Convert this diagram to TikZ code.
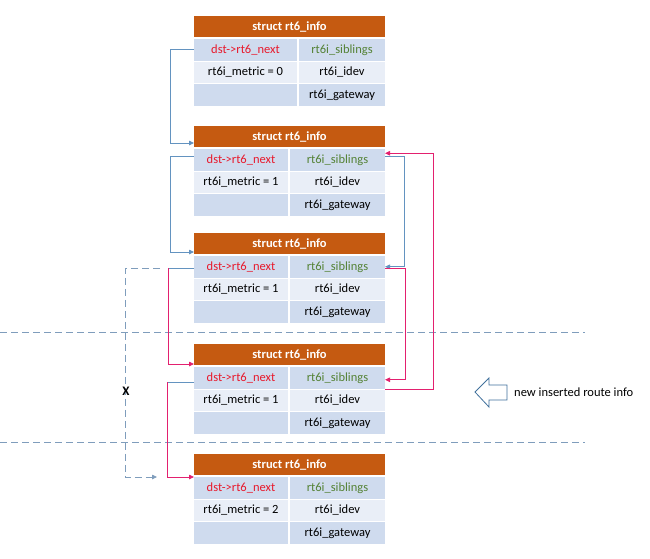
\documentclass[tikz,border=0pt]{standalone}
\usepackage{fontspec}
\setmainfont{Carlito}
\usetikzlibrary{arrows.meta}
\definecolor{hdrc}{HTML}{C55A11}
\definecolor{rowd}{HTML}{CFDBEE}
\definecolor{rowl}{HTML}{E9EEF7}
\definecolor{redt}{HTML}{E8192C}
\definecolor{grnt}{HTML}{548235}
\definecolor{blc}{HTML}{6393C0}
\definecolor{pkc}{HTML}{E3206F}
\definecolor{dshc}{HTML}{7F9DBC}
\definecolor{arrc}{HTML}{41719C}
\newcommand\rtab[4]{%
  \node[hdr, minimum width=191pt, minimum height=21pt] (#1h) at (289.5,{#2+10.5}) {struct rt6\_info};
  \node[cell, fill=rowd, minimum width={(#3-195)*1pt}, minimum height=21.5pt] (#1a) at ({(193+#3)/2},{#2+33.75}) {\color{redt}dst-{}>rt6\_next};
  \node[cell, fill=rowd, minimum width={(384-#3)*1pt}, minimum height=21.5pt] (#1b) at ({(#3+386)/2},{#2+33.75}) {\color{grnt}rt6i\_siblings};
  \node[cell, fill=rowl, minimum width={(#3-195)*1pt}, minimum height=21.5pt] (#1c) at ({(193+#3)/2},{#2+56.25}) {rt6i\_metric = #4};
  \node[cell, fill=rowl, minimum width={(384-#3)*1pt}, minimum height=21.5pt] (#1d) at ({(#3+386)/2},{#2+56.25}) {rt6i\_idev};
  \node[cell, fill=rowd, minimum width={(#3-195)*1pt}, minimum height=22pt] (#1e) at ({(193+#3)/2},{#2+79}) {};
  \node[cell, fill=rowd, minimum width={(384-#3)*1pt}, minimum height=22pt] (#1f) at ({(#3+386)/2},{#2+79}) {rt6i\_gateway};
}
\begin{document}
\begin{tikzpicture}[x=1pt,y=-1pt,
  hdr/.style={fill=hdrc, text=white, font=\fontsize{12.5}{14}\selectfont\bfseries, inner sep=0pt, outer sep=0pt},
  cell/.style={font=\fontsize{12.5}{14}\selectfont, inner sep=0pt, outer sep=0pt},
  arr/.style={-{Triangle[length=5pt,width=4.5pt]}},
  bl/.style={draw=blc, line width=0.8pt},
  pk/.style={draw=pkc, line width=0.8pt},
  dsh/.style={draw=dshc, line width=0.8pt, dash pattern=on 7pt off 4pt},
  lbl/.style={font=\fontsize{12.5}{14}\selectfont, inner sep=0pt}]
\useasboundingbox (0,0) rectangle (650,558);
\fill[white] (0,0) rectangle (650,558);

\rtab{ta}{16}{298}{0}
\rtab{tb}{126}{289}{1}
\rtab{tc}{233}{289}{1}
\rtab{td}{344}{289}{1}
\rtab{te}{454}{289}{2}

% separators
\draw[dsh] (0,332) -- (585,332);
\draw[dsh] (0,442) -- (585,442);

% blue connectors
\draw[bl,arr] (taa.west) -- ++(-24,0) |- ([yshift=4pt]tbh.south west);
\draw[bl,arr] ([yshift=3.5pt]tba.west) -- ++(-24,0) |- ([yshift=2pt]tch.south west);
\draw[bl,arr] ([yshift=3.5pt]tbb.east) -- ++(19,0) |- (tcb.east);

% pink connectors
\draw[pk,arr] ([yshift=-2pt]tcb.east) -- ++(20,0) |- ([yshift=-2pt]tdb.east);
\draw[pk,arr] ([yshift=-12pt]tdb.east) -- ++(48,0) |- ([yshift=6.5pt]tbb.east);
\draw[pk,arr] ([yshift=-2pt]tca.west) -- ++(-26,0) |- ([yshift=1pt]tdh.south west);
\draw[pk,arr] ([yshift=-5pt]tda.west) -- ++(-27,0) |- ([yshift=-2pt]teh.south west);
\draw[bl] ([yshift=-2pt]tca.west) -- ++(-25,0);
\draw[bl] ([yshift=-5pt]tda.west) -- ++(-26,0);

% broken (dashed) link
\coordinate (dstart) at ([xshift=-34pt,yshift=-2pt]tca.west);
\coordinate (dend) at ([xshift=-37pt,yshift=-2pt]teh.south west);
\draw[dsh,arr] (dstart) -- ++(-35,0) |- (dend);
\node[font=\fontsize{13}{15}\selectfont\bfseries, inner sep=0pt] (xlbl) at (126,391) {X};

% new inserted marker
\draw[draw=arrc, fill=white, line width=0.8pt] (475,392) -- (489,378) -- (489,385) -- (507,385) -- (507,400) -- (489,400) -- (489,407) -- cycle;
\node[lbl, anchor=west] (newlbl) at (514,392) {new inserted route info};
\end{tikzpicture}
\end{document}
